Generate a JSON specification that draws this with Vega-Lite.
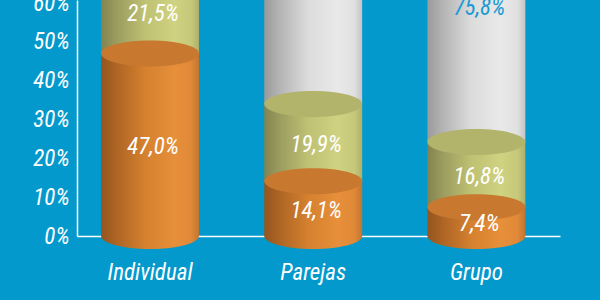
{
  "$schema": "https://vega.github.io/schema/vega-lite/v6.json",
  "width": 483,
  "height": 236,
  "autosize": {"type": "none"},
  "padding": {"left": 77, "top": 0, "right": 40, "bottom": 64},
  "background": "#0399cc",
  "config": {
    "view": {"stroke": null},
    "locale": {"number": {"decimal": ",", "thousands": ".", "grouping": [3], "currency": ["", " €"]}}
  },
  "data": {
    "values": [
      {"cat": "Individual", "seg": "a", "order": 1, "value": 0.47},
      {"cat": "Individual", "seg": "b", "order": 2, "value": 0.215},
      {"cat": "Individual", "seg": "c", "order": 3, "value": 0.315},
      {"cat": "Parejas", "seg": "a", "order": 1, "value": 0.141},
      {"cat": "Parejas", "seg": "b", "order": 2, "value": 0.199},
      {"cat": "Parejas", "seg": "c", "order": 3, "value": 0.66},
      {"cat": "Grupo", "seg": "a", "order": 1, "value": 0.074},
      {"cat": "Grupo", "seg": "b", "order": 2, "value": 0.168},
      {"cat": "Grupo", "seg": "c", "order": 3, "value": 0.758}
    ]
  },
  "transform": [
    {"stack": "value", "groupby": ["cat"], "sort": [{"field": "order", "order": "ascending"}], "as": ["y0", "y1"]},
    {"calculate": "(datum.y0 + datum.y1) / 2", "as": "ymid"}
  ],
  "encoding": {
    "x": {
      "field": "cat",
      "type": "nominal",
      "sort": ["Individual", "Parejas", "Grupo"],
      "scale": {"paddingInner": 0.4, "paddingOuter": 0.18, "align": 0.41},
      "axis": {
        "title": null,
        "labelAngle": 0,
        "ticks": false,
        "domainColor": "#ffffff",
        "domainWidth": 1.5,
        "labelColor": "#ffffff",
        "labelFont": "'Liberation Sans Narrow', 'Roboto Condensed', Roboto, sans-serif",
        "labelFontStyle": "italic",
        "labelFontSize": 23,
        "labelPadding": 25
      }
    },
    "y": {
      "field": "y0", "type": "quantitative",
      "scale": {"domain": [0, 0.608], "nice": false, "zero": true},
      "axis": {
        "title": null,
        "values": [0, 0.1, 0.2, 0.3, 0.4, 0.5, 0.6],
        "tickCount": 7,
        "format": ".0%",
        "grid": false,
        "ticks": false,
        "labelOverlap": false,
        "labelBound": false,
        "labelFlush": false,
        "domainColor": "#ffffff",
        "domainWidth": 1.5,
        "labelColor": "#ffffff",
        "labelFont": "'Liberation Sans Narrow', 'Roboto Condensed', Roboto, sans-serif",
        "labelFontStyle": "italic",
        "labelFontSize": 23,
        "labelPadding": 8
      }
    }
  },
  "layer": [
    {
      "transform": [{"filter": "datum.seg === 'c'"}],
      "mark": {"type": "bar", "color": {"gradient": "linear", "x1": 0, "x2": 1, "y1": 0, "y2": 0, "stops": [
        {"offset": 0, "color": "#9a9a9a"}, {"offset": 0.15, "color": "#b3b3b3"}, {"offset": 0.45, "color": "#dcdcdc"},
        {"offset": 0.75, "color": "#e9e9e9"}, {"offset": 0.92, "color": "#e0e0e0"}, {"offset": 1, "color": "#c4c4c4"}]}},
      "encoding": {"y2": {"field": "y1"}}
    },
    {
      "transform": [{"filter": "datum.seg === 'b'"}],
      "mark": {"type": "bar", "color": {"gradient": "linear", "x1": 0, "x2": 1, "y1": 0, "y2": 0, "stops": [
        {"offset": 0, "color": "#838350"}, {"offset": 0.15, "color": "#9a9b5e"}, {"offset": 0.45, "color": "#bfc173"},
        {"offset": 0.75, "color": "#cfd280"}, {"offset": 0.92, "color": "#c6c87a"}, {"offset": 1, "color": "#aeb06b"}]}},
      "encoding": {"y2": {"field": "y1"}}
    },
    {
      "transform": [{"filter": "datum.seg === 'a'"}],
      "mark": {"type": "bar", "color": {"gradient": "linear", "x1": 0, "x2": 1, "y1": 0, "y2": 0, "stops": [
        {"offset": 0, "color": "#93551f"}, {"offset": 0.15, "color": "#ad6424"}, {"offset": 0.45, "color": "#d5812f"},
        {"offset": 0.75, "color": "#e78f3a"}, {"offset": 0.92, "color": "#e08938"}, {"offset": 1, "color": "#c27530"}]}},
      "encoding": {"y2": {"field": "y1"}}
    },
    {
      "transform": [{"filter": "datum.seg === 'a'"}],
      "mark": {"type": "point", "filled": true, "opacity": 1, "strokeWidth": 0, "size": 9604,
        "shape": "M -1 0 A 1 0.265 0 1 0 1 0 A 1 0.265 0 1 0 -1 0 Z",
        "color": {"gradient": "linear", "x1": 0, "x2": 1, "y1": 0, "y2": 0, "stops": [
        {"offset": 0, "color": "#93551f"}, {"offset": 0.15, "color": "#ad6424"}, {"offset": 0.45, "color": "#d5812f"},
        {"offset": 0.75, "color": "#e78f3a"}, {"offset": 0.92, "color": "#e08938"}, {"offset": 1, "color": "#c27530"}]}},
      "encoding": {}
    },
    {
      "mark": {"type": "point", "filled": true, "opacity": 1, "strokeWidth": 0, "size": 9604,
        "shape": "M -1 0 A 1 0.265 0 1 0 1 0 A 1 0.265 0 1 0 -1 0 Z"},
      "encoding": {
        "y": {"field": "y1", "type": "quantitative"},
        "color": {"field": "seg", "type": "nominal", "legend": null,
          "scale": {"domain": ["a", "b", "c"], "range": ["#c8782f", "#b2b46b", "#d6d6d6"]}}
      }
    },
    {
      "transform": [{"filter": "datum.seg !== 'c'"}],
      "mark": {"type": "text", "color": "#ffffff", "font": "'Liberation Sans Narrow', 'Roboto Condensed', Roboto, sans-serif", "fontStyle": "italic", "fontSize": 23, "dy": 2, "dx": 3},
      "encoding": {
        "y": {"field": "ymid", "type": "quantitative"},
        "text": {"field": "value", "type": "quantitative", "format": ".1%"}
      }
    },
    {
      "transform": [{"filter": "datum.seg === 'c'"}],
      "mark": {"type": "text", "color": "#1a9ad4", "font": "'Liberation Sans Narrow', 'Roboto Condensed', Roboto, sans-serif", "fontStyle": "italic", "fontSize": 23, "dy": 13, "dx": 3},
      "encoding": {
        "y": {"field": "ymid", "type": "quantitative"},
        "text": {"field": "value", "type": "quantitative", "format": ".1%"}
      }
    }
  ]
}
